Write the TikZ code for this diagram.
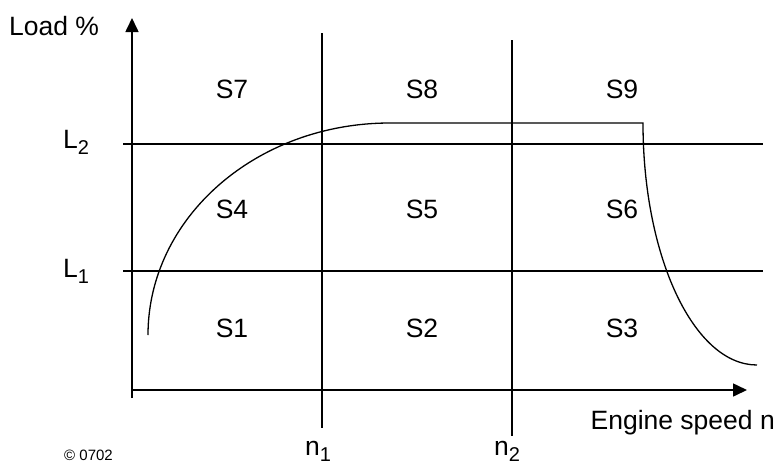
\documentclass[tikz,border=0pt]{standalone}
\usepackage{fontspec}
\setmainfont{Liberation Sans}
\usetikzlibrary{arrows.meta}

\newcommand{\subidx}[1]{\raisebox{-6pt}{\fontsize{20}{20}\selectfont #1}}

\begin{document}
\begin{tikzpicture}[
  x=1pt, y=-1pt,
  font=\fontsize{26.5}{30}\selectfont,
  axisline/.style={line width=1.6pt, -{Triangle[length=14pt, width=13pt]}},
  gridline/.style={line width=1.1pt},
  curveline/.style={line width=1.3pt, line join=miter},
  region/.style={inner sep=0pt},
  lbl/.style={inner sep=0pt, anchor=base west},
]
\useasboundingbox (0,0) rectangle (777,464);

% axes
\coordinate (yfoot) at (132,398);
\coordinate (ytip) at (132,18);
\coordinate (xfoot) at (132,390);
\coordinate (xtip) at (747,390);
\draw[axisline] (yfoot) -- (ytip);
\draw[axisline] (xfoot) -- (xtip);

% load and speed limits
\draw[gridline] (123,144) -- (763,144);
\draw[gridline] (123,271) -- (763,271);
\draw[gridline] (322,33) -- (322,428);
\draw[gridline] (512,40) -- (512,436);

% full load curve
\draw[curveline] (148,335) .. controls (148,218) and (256,123) .. (390,123)
  -- (643,123) .. controls (643,257) and (694,365) .. (757,365);

% regions
\foreach \n/\x/\y in {1/232/328, 2/422/328, 3/622/328,
                      4/232/209, 5/422/209, 6/622/209,
                      7/232/89, 8/422/89, 9/622/89}
  \node[region] (s\n) at (\x,\y) {S\n};

% labels
\node[lbl] (load) at (9,35) {Load \%};
\node[lbl, anchor=base east] (speed) at (775,429) {Engine speed n};
\node[lbl] (l2) at (63,148) {L\subidx{2}};
\node[lbl] (l1) at (63,277) {L\subidx{1}};
\node[lbl] (n1) at (305,455) {n\subidx{1}};
\node[lbl] (n2) at (494,455) {n\subidx{2}};
\node[lbl, font=\fontsize{15}{18}\selectfont] (copy) at (64,460) {© 0702};
\end{tikzpicture}
\end{document}
